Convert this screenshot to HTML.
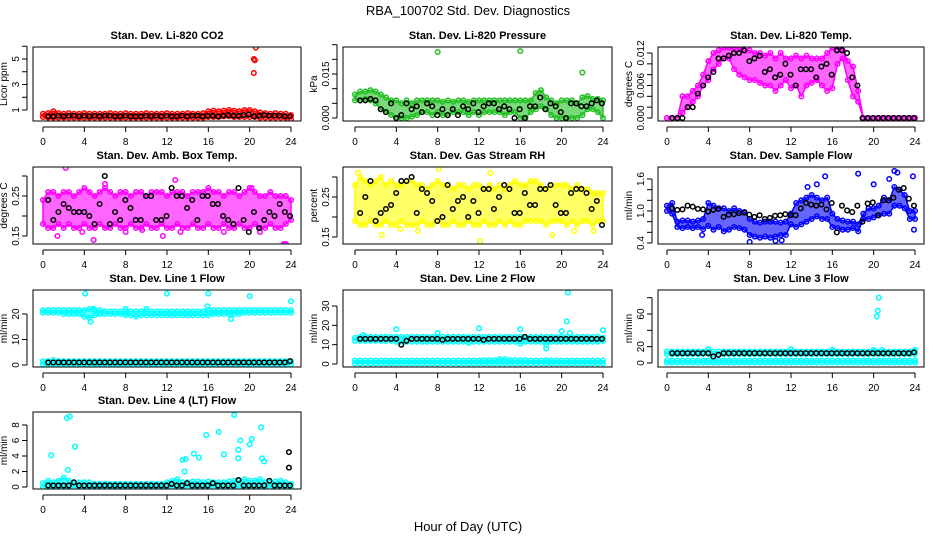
<!DOCTYPE html>
<html><head><meta charset="utf-8"><style>
body{margin:0;background:#fff}
svg{display:block;font-family:"Liberation Sans",sans-serif}
</style></head><body>
<svg id="chart" width="936" height="540" viewBox="0 0 936 540" xmlns="http://www.w3.org/2000/svg">
<rect width="936" height="540" fill="#fff"/>
<text x="468" y="15" text-anchor="middle" font-size="13">RBA_100702  Std. Dev. Diagnostics</text>
<text x="468" y="531" text-anchor="middle" font-size="13">Hour of Day (UTC)</text>
</svg>
<script>
// ---- data (colored bands: 49 values, every 0.5 h from 0 to 24; black: 48 values, every 0.5 h from 0.5) ----
const xTicks=[0,4,8,12,16,20,24];
const co2Hi=[0.7,0.75,0.9,0.75,0.7,0.75,0.7,0.7,0.75,0.7,0.7,0.7,0.7,0.75,0.7,0.7,0.75,0.7,0.7,0.7,0.75,0.7,0.7,0.7,0.75,0.7,0.7,0.7,0.75,0.7,0.7,0.75,0.9,0.95,0.9,0.95,1.0,0.95,0.9,1.0,1.0,0.9,0.8,0.75,0.7,0.75,0.7,0.7,0.6];
const co2Lo=[0.45,0.4,0.4,0.4,0.4,0.4,0.4,0.4,0.4,0.4,0.4,0.4,0.4,0.4,0.4,0.4,0.4,0.4,0.4,0.4,0.4,0.4,0.4,0.4,0.4,0.4,0.4,0.4,0.4,0.4,0.4,0.4,0.45,0.45,0.45,0.5,0.5,0.45,0.45,0.45,0.45,0.45,0.4,0.4,0.4,0.4,0.4,0.4,0.3];
const co2Blk=[0.5,0.5,0.55,0.5,0.55,0.55,0.5,0.55,0.5,0.55,0.5,0.55,0.55,0.5,0.5,0.55,0.5,0.5,0.5,0.55,0.5,0.55,0.5,0.55,0.5,0.5,0.55,0.5,0.55,0.55,0.5,0.55,0.55,0.5,0.55,0.6,0.55,0.55,0.6,0.65,0.5,0.55,0.6,0.55,0.55,0.55,0.5,0.5];
const co2Out=[[20.6,5.9],[20.4,5.0],[20.5,4.9],[20.4,3.9]];
const presHi=[0.008,0.009,0.009,0.0095,0.009,0.008,0.007,0.006,0.006,0.005,0.006,0.005,0.006,0.006,0.006,0.006,0.006,0.0055,0.006,0.0055,0.006,0.006,0.0055,0.006,0.006,0.006,0.006,0.006,0.006,0.006,0.006,0.006,0.006,0.006,0.006,0.0085,0.0095,0.007,0.006,0.005,0.006,0.006,0.006,0.005,0.007,0.0075,0.0065,0.0065,0.006];
const presLo=[0.006,0.006,0.0065,0.006,0.005,0.003,0.002,0.001,0,0,0,0.0005,0.001,0.002,0.002,0.001,0.002,0.001,0.001,0.002,0.002,0.002,0.001,0.002,0.001,0.002,0.002,0.002,0.002,0.001,0.002,0.002,0,0,0.002,0.003,0.004,0.003,0.001,0,0,0,0,0,0.001,0.003,0.003,0.002,0];
const presBlk=[0.006,0.006,0.0065,0.006,0.003,0.002,0.005,0,0.001,0.005,0.003,0.004,0.002,0.005,0.004,0.001,0.003,0.001,0.003,0.001,0.004,0.003,0.005,0.002,0.004,0.005,0.005,0.003,0.004,0.003,0,0.003,0,0.004,0.004,0.007,0.003,0.005,0.004,0.002,0,0.005,0.005,0.004,0.004,0.005,0.006,0.005];
const presOut=[[8,0.0225],[16,0.0228],[22,0.0155],[23.9,0.0265]];
const tempHi=[0,0,0,0.004,0.004,0.005,0.006,0.008,0.0105,0.012,0.0125,0.013,0.013,0.013,0.013,0.0125,0.0125,0.012,0.012,0.0115,0.012,0.011,0.012,0.011,0.011,0.0115,0.011,0.0115,0.011,0.011,0.011,0.012,0.013,0.013,0.0125,0.0105,0.0095,0.005,0,0,0,0,0,0,0,0,0,0,0];
const tempLo=[0,0,0,0.001,0.002,0.003,0.004,0.006,0.007,0.009,0.01,0.011,0.011,0.009,0.008,0.0075,0.007,0.007,0.0065,0.006,0.006,0.005,0.006,0.007,0.0055,0.006,0.004,0.006,0.0065,0.007,0.006,0.005,0.0055,0.01,0.011,0.007,0.004,0.003,0,0,0,0,0,0,0,0,0,0,0];
const tempBlk=[0,0,0,0.002,0.002,0.0045,0.006,0.0075,0.0085,0.011,0.011,0.0115,0.012,0.012,0.0125,0.0105,0.011,0.0115,0.0085,0.009,0.0075,0.008,0.01,0.008,0.006,0.009,0.009,0.009,0.0075,0.0095,0.01,0.008,0.0125,0.0125,0.012,0.0075,0.006,0,0,0,0,0,0,0,0,0,0,0];
const ambHi=[0.24,0.26,0.26,0.25,0.26,0.26,0.25,0.26,0.27,0.26,0.25,0.26,0.27,0.26,0.25,0.26,0.26,0.25,0.26,0.26,0.25,0.26,0.26,0.26,0.25,0.26,0.26,0.26,0.25,0.26,0.26,0.26,0.27,0.26,0.26,0.25,0.26,0.26,0.25,0.26,0.27,0.26,0.25,0.25,0.26,0.25,0.25,0.25,0.24];
const ambLo=[0.18,0.17,0.17,0.18,0.17,0.18,0.17,0.17,0.18,0.17,0.17,0.18,0.17,0.17,0.18,0.17,0.17,0.18,0.17,0.17,0.18,0.17,0.17,0.18,0.17,0.17,0.18,0.17,0.17,0.18,0.17,0.17,0.18,0.17,0.17,0.18,0.17,0.17,0.18,0.17,0.17,0.18,0.17,0.17,0.18,0.17,0.17,0.18,0.19];
const ambBlk=[0.24,0.19,0.21,0.23,0.22,0.21,0.21,0.21,0.2,0.18,0.23,0.3,0.18,0.21,0.19,0.24,0.22,0.19,0.19,0.25,0.25,0.19,0.19,0.2,0.27,0.25,0.25,0.22,0.24,0.19,0.25,0.25,0.23,0.23,0.2,0.19,0.18,0.27,0.19,0.16,0.21,0.17,0.19,0.21,0.2,0.23,0.21,0.2];
const ambOut=[[2.2,0.32],[12.8,0.29],[4.9,0.14],[23.3,0.13],[23.5,0.13],[6,0.28],[1.4,0.15],[3.8,0.16],[8,0.16],[11.6,0.15],[13.3,0.16],[17.5,0.16],[21,0.16],[9.6,0.165],[20.2,0.27]];
const rhHi=[0.28,0.3,0.29,0.28,0.29,0.3,0.28,0.29,0.28,0.28,0.29,0.29,0.28,0.28,0.27,0.28,0.29,0.28,0.28,0.27,0.28,0.28,0.27,0.28,0.28,0.27,0.28,0.27,0.28,0.27,0.28,0.29,0.28,0.28,0.29,0.29,0.28,0.27,0.28,0.28,0.28,0.28,0.27,0.28,0.27,0.27,0.26,0.26,0.26];
const rhLo=[0.19,0.18,0.18,0.19,0.18,0.18,0.19,0.18,0.18,0.19,0.18,0.18,0.18,0.19,0.18,0.18,0.19,0.18,0.18,0.19,0.18,0.18,0.19,0.18,0.18,0.19,0.18,0.18,0.19,0.18,0.19,0.18,0.18,0.19,0.19,0.19,0.19,0.18,0.19,0.19,0.19,0.18,0.19,0.18,0.19,0.19,0.18,0.19,0.19];
const rhBlk=[0.21,0.25,0.29,0.19,0.21,0.22,0.23,0.26,0.29,0.29,0.3,0.21,0.27,0.26,0.24,0.19,0.2,0.28,0.22,0.24,0.25,0.2,0.24,0.21,0.27,0.27,0.22,0.25,0.28,0.27,0.21,0.21,0.26,0.23,0.23,0.27,0.27,0.28,0.23,0.21,0.21,0.26,0.27,0.27,0.26,0.22,0.24,0.18];
const rhOut=[[0.3,0.31],[2.6,0.155],[8.1,0.32],[12.1,0.14],[13.1,0.31],[19.1,0.155],[21.2,0.165],[23.1,0.165],[4.4,0.17],[6.1,0.165]];
const flowHi=[1.1,1.15,0.8,0.82,0.82,0.8,0.82,0.85,1.15,1.1,1.05,1.05,1.0,1.05,1.0,0.98,0.85,0.8,0.78,0.8,0.8,0.8,0.78,0.8,0.95,1.15,1.2,1.25,1.3,1.25,1.2,1.25,0.95,0.85,0.82,0.8,0.8,0.75,0.95,1.05,1.05,1.1,1.25,1.2,1.45,1.4,1.3,1.0,1.0];
const flowLo=[1.0,0.95,0.7,0.68,0.7,0.68,0.7,0.66,0.72,0.65,0.7,0.62,0.65,0.7,0.68,0.65,0.55,0.52,0.5,0.52,0.5,0.52,0.55,0.55,0.75,0.7,0.75,0.8,0.85,0.9,0.85,0.85,0.7,0.68,0.65,0.65,0.68,0.62,0.85,0.85,0.88,0.92,0.95,0.95,1.1,1.1,1.05,0.85,0.85];
const flowBlk=[1.05,1.02,1.03,1.1,1.08,1.04,1.03,0.99,1.02,1.04,0.89,0.93,0.94,0.96,0.97,0.93,0.89,0.92,0.85,0.87,0.91,0.92,0.94,0.92,0.92,1.05,1.15,1.12,1.1,1.12,1.03,1.15,0.6,1.1,1.01,0.98,1.1,0.8,1.14,1.16,0.92,1.2,1.2,1.25,1.4,1.43,1.23,1.1];
const flowOut=[[15.3,1.65],[18.5,1.7],[22,1.75],[22.3,1.72],[14.5,1.5],[13.6,1.45],[8,0.42],[10.5,0.44],[11.1,0.45],[23.8,1.65],[21.5,1.6],[3.4,0.55],[23.9,0.65],[20,1.5]];
const l1Hi=[21.5,21.5,21.5,21.5,21.5,21.5,21.5,21.5,21.5,22,21.5,21.5,21,21,21,21,21,21,21,21,21,21,21,21,21,21,21,21,21,21,21,21,21.5,21.5,21.5,21.5,21.5,21.5,21.5,21.5,21.5,21.5,21.5,21.5,21.5,21.5,21.5,21.5,21.5];
const l1Lo=[20.5,20.5,20.5,20.5,20,20,20,20,19,18.5,19.5,20,20,20,20,20,19.5,19.5,19,19.5,19.5,19.5,19.5,19.5,19.5,19.5,19.5,19.5,19.5,19.5,19.5,19.5,19.5,20,20,20,20,20,20,20.5,20.5,20.5,20.5,20.5,20.5,20.5,20.5,20.5,20.5];
const l1Hi2=[1.5,1.5,2,1.5,1.5,1.5,1.5,1.5,1.5,1.5,1.5,1.5,1.5,1.5,1.5,1.5,1.5,1.5,1.5,1.5,1.5,1.5,1.5,1.5,1.5,1.5,1.5,1.5,1.5,1.5,1.5,1.5,1.5,1.5,1.5,1.5,1.5,1.5,1.5,1.5,1.5,1.5,1.5,1.5,1.5,1.5,1.5,1.5,1.5];
const l1Lo2=[0.3,0.3,0.3,0.3,0.3,0.3,0.3,0.3,0.3,0.3,0.3,0.3,0.3,0.3,0.3,0.3,0.3,0.3,0.3,0.3,0.3,0.3,0.3,0.3,0.3,0.3,0.3,0.3,0.3,0.3,0.3,0.3,0.3,0.3,0.3,0.3,0.3,0.3,0.3,0.3,0.3,0.3,0.3,0.3,0.3,0.3,0.3,0.3,0.3];
const l1Blk=[1,1,1,1,1,1,1,1,1,1,1,1,1,1,1,1,1,1,1,1,1,1,1,1,1,1,1,1,1,1,1,1,1,1,1,1,1,1,1,1,1,1,1,1,1,1,1,1.5];
const l1Out=[[4.1,28],[12,28],[16,28],[20,27],[24,25],[4.6,17],[15.9,23],[18.2,18],[4.9,22],[8,22],[10,22]];
const l2Hi=[13.5,14,14,14,14,14,14,14,14,14,14,14,14,14,14,14,14,14,14,14,14,14,14,14,14,14,14,14,14,14,14,14,14,14,14,14,14,14,14,14,14,14,14,14,14,14,14,14,13.5];
const l2Lo=[12,12,12,12,12,12,12,12,11.5,11.5,11.5,11.5,11.5,11.5,11.5,11.5,11.5,11.5,11.5,11.5,11.5,11.5,11,11.5,11.5,11.5,11.5,11.5,11.5,11.5,11.5,11.5,10.5,11.5,11.5,11.5,11.5,11.5,11.5,11.5,11.5,11.5,11.5,11.5,11.5,11.5,11.5,11.5,12];
const l2Hi2=[1.8,1.8,1.8,1.8,1.8,1.8,1.8,1.8,1.8,1.8,1.8,1.8,1.8,1.8,1.8,1.8,1.8,1.8,1.8,1.8,1.8,1.8,1.8,1.8,1.8,2,2,2,2.5,2.5,2,2,2,2,1.8,1.8,1.8,2,1.8,1.8,1.8,1.8,1.8,1.8,1.8,1.8,1.8,1.8,1.8];
const l2Lo2=[0.3,0.3,0.3,0.3,0.3,0.3,0.3,0.3,0.3,0.3,0.3,0.3,0.3,0.3,0.3,0.3,0.3,0.3,0.3,0.3,0.3,0.3,0.3,0.3,0.3,0.3,0.3,0.3,0.3,0.3,0.3,0.3,0.3,0.3,0.3,0.3,0.3,0.3,0.3,0.3,0.3,0.3,0.3,0.3,0.3,0.3,0.3,0.3,0.3];
const l2Blk=[13,13,13,13,13,13,13,13,10,12,13,13,13,13,13,13,12.5,13,13,13,13,13,13,13,12.5,13,13,13,13,13,13,13,14,13,13,13,13,13,13,13,13,13,13,13,13,13,13,13];
const l2Out=[[4,18],[0.8,15],[8,16],[12,18.5],[16,18],[20,17],[20.5,22],[20.6,37],[20.8,16],[24,17.5],[18.5,8],[18.5,10]];
const l3Hi=[14,14,14,14,14,14,14,14,14,14,14,14,14,14,14,14,14,14,14,14,14,14,14,14,14,14,14,14,14,14,14,14,14,14,14,14,14,14,14,14,14,14,14,14,14,14,14,14,14];
const l3Lo=[11,11,11,11,11,11,11,11,11,11,11,11,11,11,11,11,11,11,11,11,11,11,11,11,11,11,11,11,11,11,11,11,11,11,11,11,11,11,11,11,11,11,11,11,11,11,11,11,11];
const l3Hi2=[3,3,3,3,3,3,3,3,3,3,3,3,3,3,3,3,3,3,3,3,3,3,3,3,3,3,3,3,3,3,3,3,3,3,3,3,3,3,3,3,3,3,3,3,3,3,3,3,3];
const l3Lo2=[0.5,0.5,0.5,0.5,0.5,0.5,0.5,0.5,0.5,0.5,0.5,0.5,0.5,0.5,0.5,0.5,0.5,0.5,0.5,0.5,0.5,0.5,0.5,0.5,0.5,0.5,0.5,0.5,0.5,0.5,0.5,0.5,0.5,0.5,0.5,0.5,0.5,0.5,0.5,0.5,0.5,0.5,0.5,0.5,0.5,0.5,0.5,0.5,0.5];
const l3Blk=[12,12,12,12,12,12,12,12,8,10,12,12,12,12,12,12,12,12,12,12,12,12,12,12,12,12,12,12,12,12,12,12,12,12,12,12,12,12,12,12,12,12,12,12,12,12,12,13];
const l3Out=[[20.5,80],[20.4,64],[20.3,57],[4,17],[24,16],[12,17],[16,16],[20,16],[20.8,16]];
const l4Hi=[0.5,0.8,0.6,0.8,1.2,0.8,0.6,0.6,0.6,0.6,0.4,0.4,0.4,0.4,0.4,0.4,0.4,0.4,0.4,0.4,0.4,0.4,0.4,0.4,0.6,0.8,1.0,0.6,0.6,0.7,0.7,0.6,0.7,0.6,0.6,0.6,0.7,0.8,0.8,1.0,0.8,0.8,1.0,0.6,0.6,0.7,0.8,0.6,0.4];
const l4Lo=[0,0,0,0,0,0,0,0,0,0,0,0,0,0,0,0,0,0,0,0,0,0,0,0,0,0,0,0,0,0,0,0,0,0,0,0,0,0,0,0,0,0,0,0,0,0,0,0,0];
const l4Blk=[0.2,0.2,0.2,0.2,0.2,0.6,0.2,0.2,0.2,0.2,0.2,0.2,0.2,0.2,0.2,0.2,0.2,0.2,0.2,0.2,0.2,0.2,0.2,0.2,0.4,0.2,0.2,0.5,0.2,0.2,0.2,0.2,0.5,0.2,0.2,0.2,0.2,0.9,0.2,0.2,0.2,0.2,0.2,0.8,0.2,0.2,0.2,0.2];
const l4Out=[[0.8,4.1],[2.3,8.9],[2.6,9.1],[2.4,2.2],[3.1,5.2],[13.5,3.5],[13.8,3.6],[13.7,2.0],[14.6,4.3],[15.1,3.8],[15.8,6.7],[17.0,7.1],[17.5,4.2],[18.5,9.3],[18.9,4.8],[18.9,3.7],[19.1,6.0],[20.0,5.5],[20.2,6.2],[21.1,7.7],[21.2,3.7],[21.4,3.3]];
const l4BlkOut=[[23.8,4.5],[23.8,2.5]];
</script>
<script>
const svg=document.getElementById('chart');
const NS='http://www.w3.org/2000/svg';
function mk(tag,attrs,parent){const e=document.createElementNS(NS,tag);for(const k in attrs)e.setAttribute(k,attrs[k]);(parent||svg).appendChild(e);return e;}
const cols=[{l:33,r:301,x0:43,x24:291},{l:343,r:612,x0:355,x24:603},{l:658,r:924,x0:667,x24:915}];
const rows=[{t:47,b:121},{t:167,b:244},{t:290,b:367},{t:412,b:489}];
function panel(p){
  const c=cols[p.col],rw=rows[p.row];
  const g=mk('g',{});
  
  
  const X=h=>c.x0+h*(c.x24-c.x0)/24;
  const k=(p.yref[3]-p.yref[1])/(p.yref[2]-p.yref[0]);
  const Y=v=>p.yref[1]+(v-p.yref[0])*k;
  const cid='clip'+p.name;
  const cp=mk('clipPath',{id:cid},g);mk('rect',{x:c.l,y:rw.t,width:c.r-c.l,height:rw.b-rw.t},cp);
  const plot=mk('g',{'clip-path':'url(#'+cid+')'},g);
  (p.bands||[]).forEach(b=>{
    let d='';const n=b.hi.length;
    for(let i=0;i<n;i++)d+=(i?'L':'M')+X(i*24/(n-1)).toFixed(1)+','+Y(b.hi[i]).toFixed(1);
    for(let i=n-1;i>=0;i--)d+='L'+X(i*24/(n-1)).toFixed(1)+','+Y(b.lo[i]).toFixed(1);
    const a=mk('path',{d:d+'Z',fill:p.color,'fill-opacity':0.6,stroke:p.color,'stroke-width':1.5,'stroke-linejoin':'round'},plot);
    
    
    [b.hi,b.lo].forEach(arr=>arr.forEach((v,i)=>{
      const pt=mk('circle',{cx:X(i*24/(n-1)),cy:Y(v),r:2.3,fill:'none',stroke:p.color,'stroke-width':1.5},plot);
      
      
    }));
  });
  (p.out||[]).forEach(o=>{
    const pt=mk('circle',{cx:X(o[0]),cy:Y(o[1]),r:2.3,fill:'none',stroke:p.color,'stroke-width':1.5},plot);
    
    
  });
  (p.blk||[]).forEach((v,i)=>{
    const pt=mk('circle',{cx:X(0.5+i*0.5*(23.4/23.5)),cy:Y(v),r:2.3,fill:'none',stroke:'#000','stroke-width':1.5},plot);
    
    
  });
  (p.blkOut||[]).forEach(o=>{
    const pt=mk('circle',{cx:X(o[0]),cy:Y(o[1]),r:2.3,fill:'none',stroke:'#000','stroke-width':1.5},plot);
    
    
  });
  const box=mk('rect',{x:c.l,y:rw.t,width:c.r-c.l,height:rw.b-rw.t,fill:'none',stroke:'#000','stroke-width':1},g);
  
  
  const xa=mk('g',{},g);
  
  
  mk('line',{x1:X(0),x2:X(24),y1:rw.b+6,y2:rw.b+6,stroke:'#000'},xa);
  xTicks.forEach(t=>{
    mk('line',{x1:X(t),x2:X(t),y1:rw.b+6,y2:rw.b+11,stroke:'#000'},xa);
    const tx=mk('text',{x:X(t),y:rw.b+24,'text-anchor':'middle','font-size':10},xa);tx.textContent=t;
    
    
  });
  const ya=mk('g',{},g);
  
  
  const yt=p.ticks;
  mk('line',{x1:c.l-6,x2:c.l-6,y1:Y(yt[0]),y2:Y(yt[yt.length-1]),stroke:'#000'},ya);
  yt.forEach(t=>mk('line',{x1:c.l-6,x2:c.l-11,y1:Y(t),y2:Y(t),stroke:'#000'},ya));
  p.labels.forEach(t=>{
    const yy=Y(t);
    const tx=mk('text',{x:c.l-14,y:yy,'text-anchor':'middle','font-size':10,transform:'rotate(-90 '+(c.l-14)+' '+yy+')'},ya);
    tx.textContent=p.fmt?t.toFixed(p.fmt):t;
    
    
  });
  const ymid=(rw.t+rw.b)/2;
  const yl=mk('text',{x:c.l-26,y:ymid,'text-anchor':'middle','font-size':10,transform:'rotate(-90 '+(c.l-26)+' '+ymid+')'},g);
  yl.textContent=p.ylab;
  
  
  const ti=mk('text',{x:(c.l+c.r)/2,y:rw.t-8,'text-anchor':'middle','font-size':11,'font-weight':'bold'},g);
  ti.textContent=p.title;
  
  
}
const cyan='#00ffff';
panel({name:'panel-co2',col:0,row:0,title:'Stan. Dev. Li-820 CO2',ylab:'Licor ppm',color:'#ff0000',yref:[1,110,5,59],ticks:[1,2,3,4,5,6],labels:[1,3,5],bands:[{hi:co2Hi,lo:co2Lo}],blk:co2Blk,out:co2Out});
panel({name:'panel-pressure',col:1,row:0,title:'Stan. Dev. Li-820 Pressure',ylab:'kPa',color:'#22c022',yref:[0,118,0.015,74],ticks:[0,0.005,0.01,0.015,0.02,0.025],labels:[0,0.015],fmt:3,bands:[{hi:presHi,lo:presLo}],blk:presBlk,out:presOut});
panel({name:'panel-temp',col:2,row:0,title:'Stan. Dev. Li-820 Temp.',ylab:'degrees C',color:'#ff00ff',yref:[0,118,0.012,53],ticks:[0,0.002,0.004,0.006,0.008,0.01,0.012],labels:[0,0.006,0.012],fmt:3,bands:[{hi:tempHi,lo:tempLo}],blk:tempBlk});
panel({name:'panel-amb-box-temp',col:0,row:1,title:'Stan. Dev. Amb. Box Temp.',ylab:'degrees C',color:'#ff00ff',yref:[0.15,236,0.25,196],ticks:[0.15,0.2,0.25,0.3],labels:[0.15,0.25],fmt:2,bands:[{hi:ambHi,lo:ambLo}],blk:ambBlk,out:ambOut});
panel({name:'panel-gas-rh',col:1,row:1,title:'Stan. Dev. Gas Stream RH',ylab:'percent',color:'#ffff00',yref:[0.15,237,0.25,197],ticks:[0.15,0.2,0.25,0.3],labels:[0.15,0.25],fmt:2,bands:[{hi:rhHi,lo:rhLo}],blk:rhBlk,out:rhOut});
panel({name:'panel-sample-flow',col:2,row:1,title:'Stan. Dev. Sample Flow',ylab:'ml/min',color:'#0000ff',yref:[0.4,243,1.6,179],ticks:[0.4,0.6,0.8,1.0,1.2,1.4,1.6],labels:[0.4,1.0,1.6],fmt:1,bands:[{hi:flowHi,lo:flowLo}],blk:flowBlk,out:flowOut});
panel({name:'panel-line1-flow',col:0,row:2,title:'Stan. Dev. Line 1 Flow',ylab:'ml/min',color:cyan,yref:[0,365,20,314],ticks:[0,10,20],labels:[0,10,20],bands:[{hi:l1Hi,lo:l1Lo},{hi:l1Hi2,lo:l1Lo2}],blk:l1Blk,out:l1Out});
panel({name:'panel-line2-flow',col:1,row:2,title:'Stan. Dev. Line 2 Flow',ylab:'ml/min',color:cyan,yref:[0,364,30,306],ticks:[0,10,20,30],labels:[0,10,20,30],bands:[{hi:l2Hi,lo:l2Lo},{hi:l2Hi2,lo:l2Lo2}],blk:l2Blk,out:l2Out});
panel({name:'panel-line3-flow',col:2,row:2,title:'Stan. Dev. Line 3 Flow',ylab:'ml/min',color:cyan,yref:[0,363,60,314],ticks:[0,20,40,60,80],labels:[0,20,60],bands:[{hi:l3Hi,lo:l3Lo},{hi:l3Hi2,lo:l3Lo2}],blk:l3Blk,out:l3Out});
panel({name:'panel-line4-flow',col:0,row:3,title:'Stan. Dev. Line 4 (LT) Flow',ylab:'ml/min',color:cyan,yref:[0,487,8,425],ticks:[0,2,4,6,8],labels:[0,2,4,6,8],bands:[{hi:l4Hi,lo:l4Lo}],blk:l4Blk,out:l4Out,blkOut:l4BlkOut});
</script>
</body></html>
